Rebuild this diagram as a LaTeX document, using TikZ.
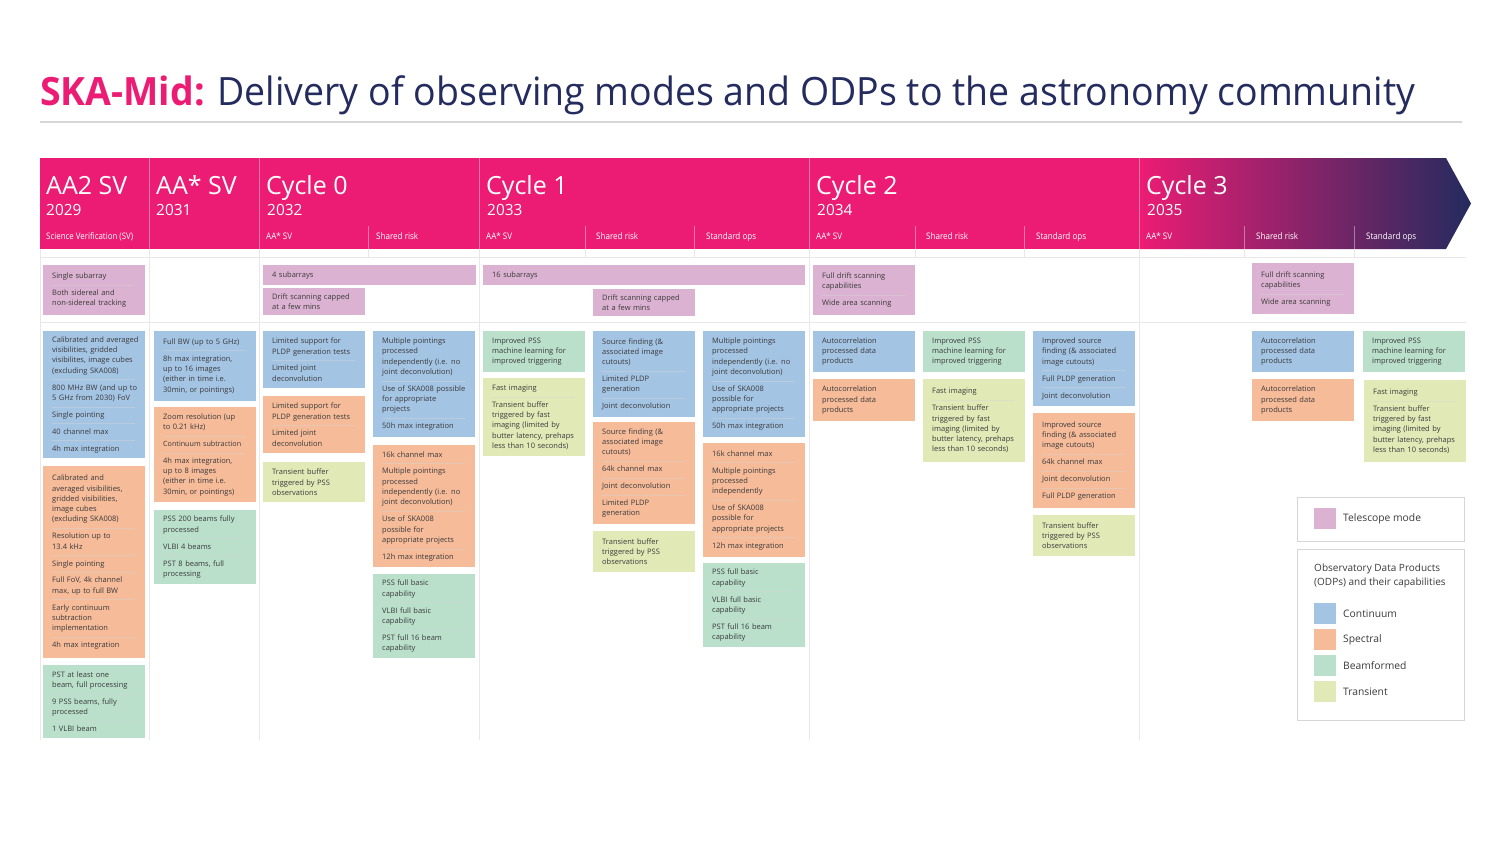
\documentclass[tikz,border=0pt]{standalone}
\usepackage{fontspec}
\setmainfont{Open Sans}
\usepackage{graphicx}

% palette
\definecolor{skapink}{HTML}{EC1C74}
\definecolor{skanavy}{HTML}{242B5E}
\definecolor{txt}{HTML}{3A3A3A}
\definecolor{grid}{HTML}{E8E8E8}
\definecolor{legline}{HTML}{D6D6D6}
\definecolor{sepg}{HTML}{D4D4D4}
\definecolor{cTel}{HTML}{DBB2D1}
\definecolor{cCont}{HTML}{A4C4E4}
\definecolor{cSpec}{HTML}{F6BB99}
\definecolor{cBeam}{HTML}{BAE0CC}
\definecolor{cTran}{HTML}{E1EAB7}
\colorlet{cTelS}{cTel!55!sepg}
\colorlet{cContS}{cCont!55!sepg}
\colorlet{cSpecS}{cSpec!55!sepg}
\colorlet{cBeamS}{cBeam!55!sepg}
\colorlet{cTranS}{cTran!55!sepg}
\colorlet{sepc}{sepg}

\newcommand\boxfont{\fontsize{7.5}{10.3}\selectfont}
% thin rule between the items of one box
\newcommand\isep{\par\kern-\prevdepth\kern6.2pt\nointerlineskip
  \moveright9pt\hbox{\color{sepc}\vrule width 83pt height .7pt depth 0pt}\kern-.3pt\relax}
% condensed header labels
\newcommand\lblAA{\resizebox{26pt}{\height}{AA* SV}}
\newcommand\lblSR{\resizebox{42pt}{\height}{Shared risk}}
\newcommand\lblSO{\resizebox{50pt}{\height}{Standard ops}}

\tikzset{
  odp/.style={anchor=north west, inner xsep=0pt, inner ysep=0pt,
    text width=102pt, minimum height=#1, align=left, font=\boxfont, text=txt,
    execute at begin node={\leftskip=9pt\relax}},
  tel/.style={odp=#1, fill=cTel, execute at begin node={\colorlet{sepc}{cTelS}}},
  cont/.style={odp=#1, fill=cCont, execute at begin node={\colorlet{sepc}{cContS}}},
  spec/.style={odp=#1, fill=cSpec, execute at begin node={\colorlet{sepc}{cSpecS}}},
  beam/.style={odp=#1, fill=cBeam, execute at begin node={\colorlet{sepc}{cBeamS}}},
  tran/.style={odp=#1, fill=cTran, execute at begin node={\colorlet{sepc}{cTranS}}},
  hbig/.style={anchor=base west, inner sep=0pt, text=white, font=\fontsize{25}{28}\selectfont},
  hyear/.style={anchor=base west, inner sep=0pt, text=white, font=\fontsize{15.4}{18}\selectfont},
  hsub/.style={anchor=base west, inner sep=0pt, text=white, font=\fontsize{9}{11}\selectfont},
  divfull/.style={draw=white, draw opacity=.4, line width=.8pt},
  gridline/.style={draw=grid, line width=1pt},
  swatch/.style={anchor=north west, inner sep=0pt, minimum width=22pt, minimum height=21pt},
  legtext/.style={anchor=west, inner sep=0pt, text=txt, font=\fontsize{10.3}{14}\selectfont},
  legbox/.style={anchor=north west, inner sep=0pt, draw=legline, line width=1pt, fill=white},
}

\begin{document}
\begin{tikzpicture}[x=1pt, y=-1pt]
\useasboundingbox[fill=white] (0,0) rectangle (1500,844);

% ---------- title ----------
\node[anchor=base west, inner sep=0pt] (title) at (40,105)
  {\resizebox{1375pt}{\height}{\fontsize{39}{44}\selectfont\textcolor{skapink}{\bfseries SKA-Mid:} \textcolor{skanavy}{Delivery of observing modes and ODPs to the astronomy community}}};
\draw[draw=legline, line width=1.2pt] (40,122) -- (1462,122);

% ---------- timeline band ----------
\fill[skapink] (40,158) rectangle (1139,249);
\shade[left color=skapink, right color=skanavy]
  (1139,158) -- (1446,158) -- (1471,203.5) -- (1446,249) -- (1139,249) -- cycle;

\foreach \x in {149,259,479,809,1139} \draw[divfull] (\x,158) -- (\x,249);
\foreach \x in {368,585,694,915,1024,1244,1354} \draw[divfull] (\x,226) -- (\x,249);

% ---------- body grid ----------
\foreach \x in {40,149,259,479,809,1139} \draw[gridline] (\x,249) -- (\x,740);
\foreach \x in {368,585,694,915,1024,1244,1354} \draw[gridline] (\x,249) -- (\x,257.5);
\draw[gridline] (40,257.5) -- (1466,257.5);
\draw[gridline] (40,322.5) -- (1466,322.5);

% ---------- header labels ----------
\node[hbig] (hA) at (46,194) {AA2 SV};
\node[hyear] (yA) at (46,215) {2029};
\node[hsub] (sA) at (46,239) {\resizebox{87pt}{\height}{Science Verification (SV)}};

\node[hbig] (hB) at (156,194) {AA* SV};
\node[hyear] (yB) at (156,215) {2031};

\node[hbig] (hC0) at (266,194) {Cycle 0};
\node[hyear] (yC0) at (267,215) {2032};
\node[hsub] (sC0a) at (266,239) {\lblAA};
\node[hsub] (sC0b) at (376,239) {\lblSR};

\node[hbig] (hC1) at (486,194) {Cycle 1};
\node[hyear] (yC1) at (487,215) {2033};
\node[hsub] (sC1a) at (486,239) {\lblAA};
\node[hsub] (sC1b) at (596,239) {\lblSR};
\node[hsub] (sC1c) at (706,239) {\lblSO};

\node[hbig] (hC2) at (816,194) {Cycle 2};
\node[hyear] (yC2) at (817,215) {2034};
\node[hsub] (sC2a) at (816,239) {\lblAA};
\node[hsub] (sC2b) at (926,239) {\lblSR};
\node[hsub] (sC2c) at (1036,239) {\lblSO};

\node[hbig] (hC3) at (1146,194) {Cycle 3};
\node[hyear] (yC3) at (1147,215) {2035};
\node[hsub] (sC3a) at (1146,239) {\lblAA};
\node[hsub] (sC3b) at (1256,239) {\lblSR};
\node[hsub] (sC3c) at (1366,239) {\lblSO};

% ---------- AA2 SV ----------
\node[tel=50] (aTel) at (43,265) {Single subarray\isep Both sidereal and\\non-sidereal tracking};
\node[cont=127] (aCont) at (43,331) {Calibrated and averaged\\visibilities, gridded\\visibilites, image cubes\\(excluding SKA008)\isep 800 MHz BW (and up to\\5 GHz from 2030) FoV\isep Single pointing\isep 40 channel max\isep 4h max integration};
\node[spec=192] (aSpec) at (43,466) {Calibrated and\\averaged visibilities,\\gridded visibilities,\\image cubes\\(excluding SKA008)\isep Resolution up to\\13.4 kHz\isep Single pointing\isep Full FoV, 4k channel\\max, up to full BW\isep Early continuum\\subtraction\\implementation\isep 4h max integration};
\node[beam=73] (aBeam) at (43,665) {PST at least one\\beam, full processing\isep 9 PSS beams, fully\\processed\isep 1 VLBI beam};

% ---------- AA* SV ----------
\node[cont=70] (bCont) at (154,331) {Full BW (up to 5 GHz)\isep 8h max integration,\\up to 16 images\\(either in time i.e.\\30min, or pointings)};
\node[spec=95] (bSpec) at (154,407) {Zoom resolution (up\\to 0.21 kHz)\isep \resizebox{78pt}{!}{Continuum subtraction}\isep 4h max integration,\\up to 8 images\\(either in time i.e.\\30min, or pointings)};
\node[beam=74] (bBeam) at (154,510) {PSS 200 beams fully\\processed\isep VLBI 4 beams\isep PST 8 beams, full\\processing};

% ---------- Cycle 0 ----------
\node[tel=20, text width=213pt] (c0Tel) at (263,265) {4 subarrays};
\node[tel=27] (c0Drift) at (263,288) {Drift scanning capped\\at a few mins};
\node[cont=57] (c0aCont) at (263,331) {Limited support for\\PLDP generation tests\isep Limited joint\\deconvolution};
\node[spec=57] (c0aSpec) at (263,396) {Limited support for\\PLDP generation tests\isep Limited joint\\deconvolution};
\node[tran=40] (c0aTran) at (263,462) {Transient buffer\\triggered by PSS\\observations};
\node[cont=106] (c0bCont) at (373,331) {Multiple pointings\\processed\\independently (i.e. no\\joint deconvolution)\isep Use of SKA008 possible\\for appropriate\\projects\isep 50h max integration};
\node[spec=122] (c0bSpec) at (373,445) {16k channel max\isep Multiple pointings\\processed\\independently (i.e. no\\joint deconvolution)\isep Use of SKA008\\possible for\\appropriate projects\isep 12h max integration};
\node[beam=84] (c0bBeam) at (373,574) {PSS full basic\\capability\isep VLBI full basic\\capability\isep PST full 16 beam\\capability};

% ---------- Cycle 1 ----------
\node[tel=20, text width=322pt] (c1Tel) at (483,265) {16 subarrays};
\node[tel=27] (c1Drift) at (593,289) {Drift scanning capped\\at a few mins};
\node[beam=41] (c1aBeam) at (483,331) {Improved PSS\\machine learning for\\improved triggering};
\node[tran=78] (c1aTran) at (483,378) {Fast imaging\isep Transient buffer\\triggered by fast\\imaging (limited by\\butter latency, prehaps\\less than 10 seconds)};
\node[cont=86] (c1bCont) at (593,331) {Source finding (\&\\associated image\\cutouts)\isep Limited PLDP\\generation\isep Joint deconvolution};
\node[spec=102] (c1bSpec) at (593,422) {Source finding (\&\\associated image\\cutouts)\isep 64k channel max\isep Joint deconvolution\isep Limited PLDP\\generation};
\node[tran=41] (c1bTran) at (593,531) {Transient buffer\\triggered by PSS\\observations};
\node[cont=106] (c1cCont) at (703,331) {Multiple pointings\\processed\\independently (i.e. no\\joint deconvolution)\isep Use of SKA008\\possible for\\appropriate projects\isep 50h max integration};
\node[spec=114] (c1cSpec) at (703,443) {16k channel max\isep Multiple pointings\\processed\\independently\isep Use of SKA008\\possible for\\appropriate projects\isep 12h max integration};
\node[beam=84] (c1cBeam) at (703,563) {PSS full basic\\capability\isep VLBI full basic\\capability\isep PST full 16 beam\\capability};

% ---------- Cycle 2 ----------
\node[tel=50] (c2Tel) at (813,265) {Full drift scanning\\capabilities\isep Wide area scanning};
\node[cont=41] (c2aCont) at (813,331) {Autocorrelation\\processed data\\products};
\node[spec=42] (c2aSpec) at (813,379) {Autocorrelation\\processed data\\products};
\node[beam=41] (c2bBeam) at (923,331) {Improved PSS\\machine learning for\\improved triggering};
\node[tran=83] (c2bTran) at (923,379) {Fast imaging\isep Transient buffer\\triggered by fast\\imaging (limited by\\butter latency, prehaps\\less than 10 seconds)};
\node[cont=75] (c2cCont) at (1033,331) {Improved source\\finding (\& associated\\image cutouts)\isep Full PLDP generation\isep Joint deconvolution};
\node[spec=95] (c2cSpec) at (1033,413) {Improved source\\finding (\& associated\\image cutouts)\isep 64k channel max\isep Joint deconvolution\isep Full PLDP generation};
\node[tran=41] (c2cTran) at (1033,515) {Transient buffer\\triggered by PSS\\observations};

% ---------- Cycle 3 ----------
\node[tel=51] (c3Tel) at (1252,263) {Full drift scanning\\capabilities\isep Wide area scanning};
\node[cont=41] (c3bCont) at (1252,331) {Autocorrelation\\processed data\\products};
\node[spec=42] (c3bSpec) at (1252,379) {Autocorrelation\\processed data\\products};
\node[beam=41] (c3cBeam) at (1363,331) {Improved PSS\\machine learning for\\improved triggering};
\node[tran=82] (c3cTran) at (1364,380) {Fast imaging\isep Transient buffer\\triggered by fast\\imaging (limited by\\butter latency, prehaps\\less than 10 seconds)};

% ---------- legend ----------
\node[legbox, minimum width=167pt, minimum height=44pt] (leg1) at (1297,497) {};
\node[swatch, fill=cTel] (swTel) at (1314,508) {};
\node[legtext] (lbTel) at (1343,519) {Telescope mode};

\node[legbox, minimum width=167pt, minimum height=171pt] (leg2) at (1297,549) {};
\node[anchor=north west, inner sep=0pt, align=left, text=txt, font=\fontsize{10}{14}\selectfont] (legHead) at (1314,564)
  {Observatory Data Products\\(ODPs) and their capabilities};
\node[swatch, fill=cCont] (swCont) at (1314,603) {};
\node[legtext] (lbCont) at (1343,613.5) {Continuum};
\node[swatch, fill=cSpec] (swSpec) at (1314,629) {};
\node[legtext] (lbSpec) at (1343,639.5) {Spectral};
\node[swatch, fill=cBeam] (swBeam) at (1314,655) {};
\node[legtext] (lbBeam) at (1343,665.5) {Beamformed};
\node[swatch, fill=cTran] (swTran) at (1314,681) {};
\node[legtext] (lbTran) at (1343,691.5) {Transient};
\end{tikzpicture}
\end{document}
